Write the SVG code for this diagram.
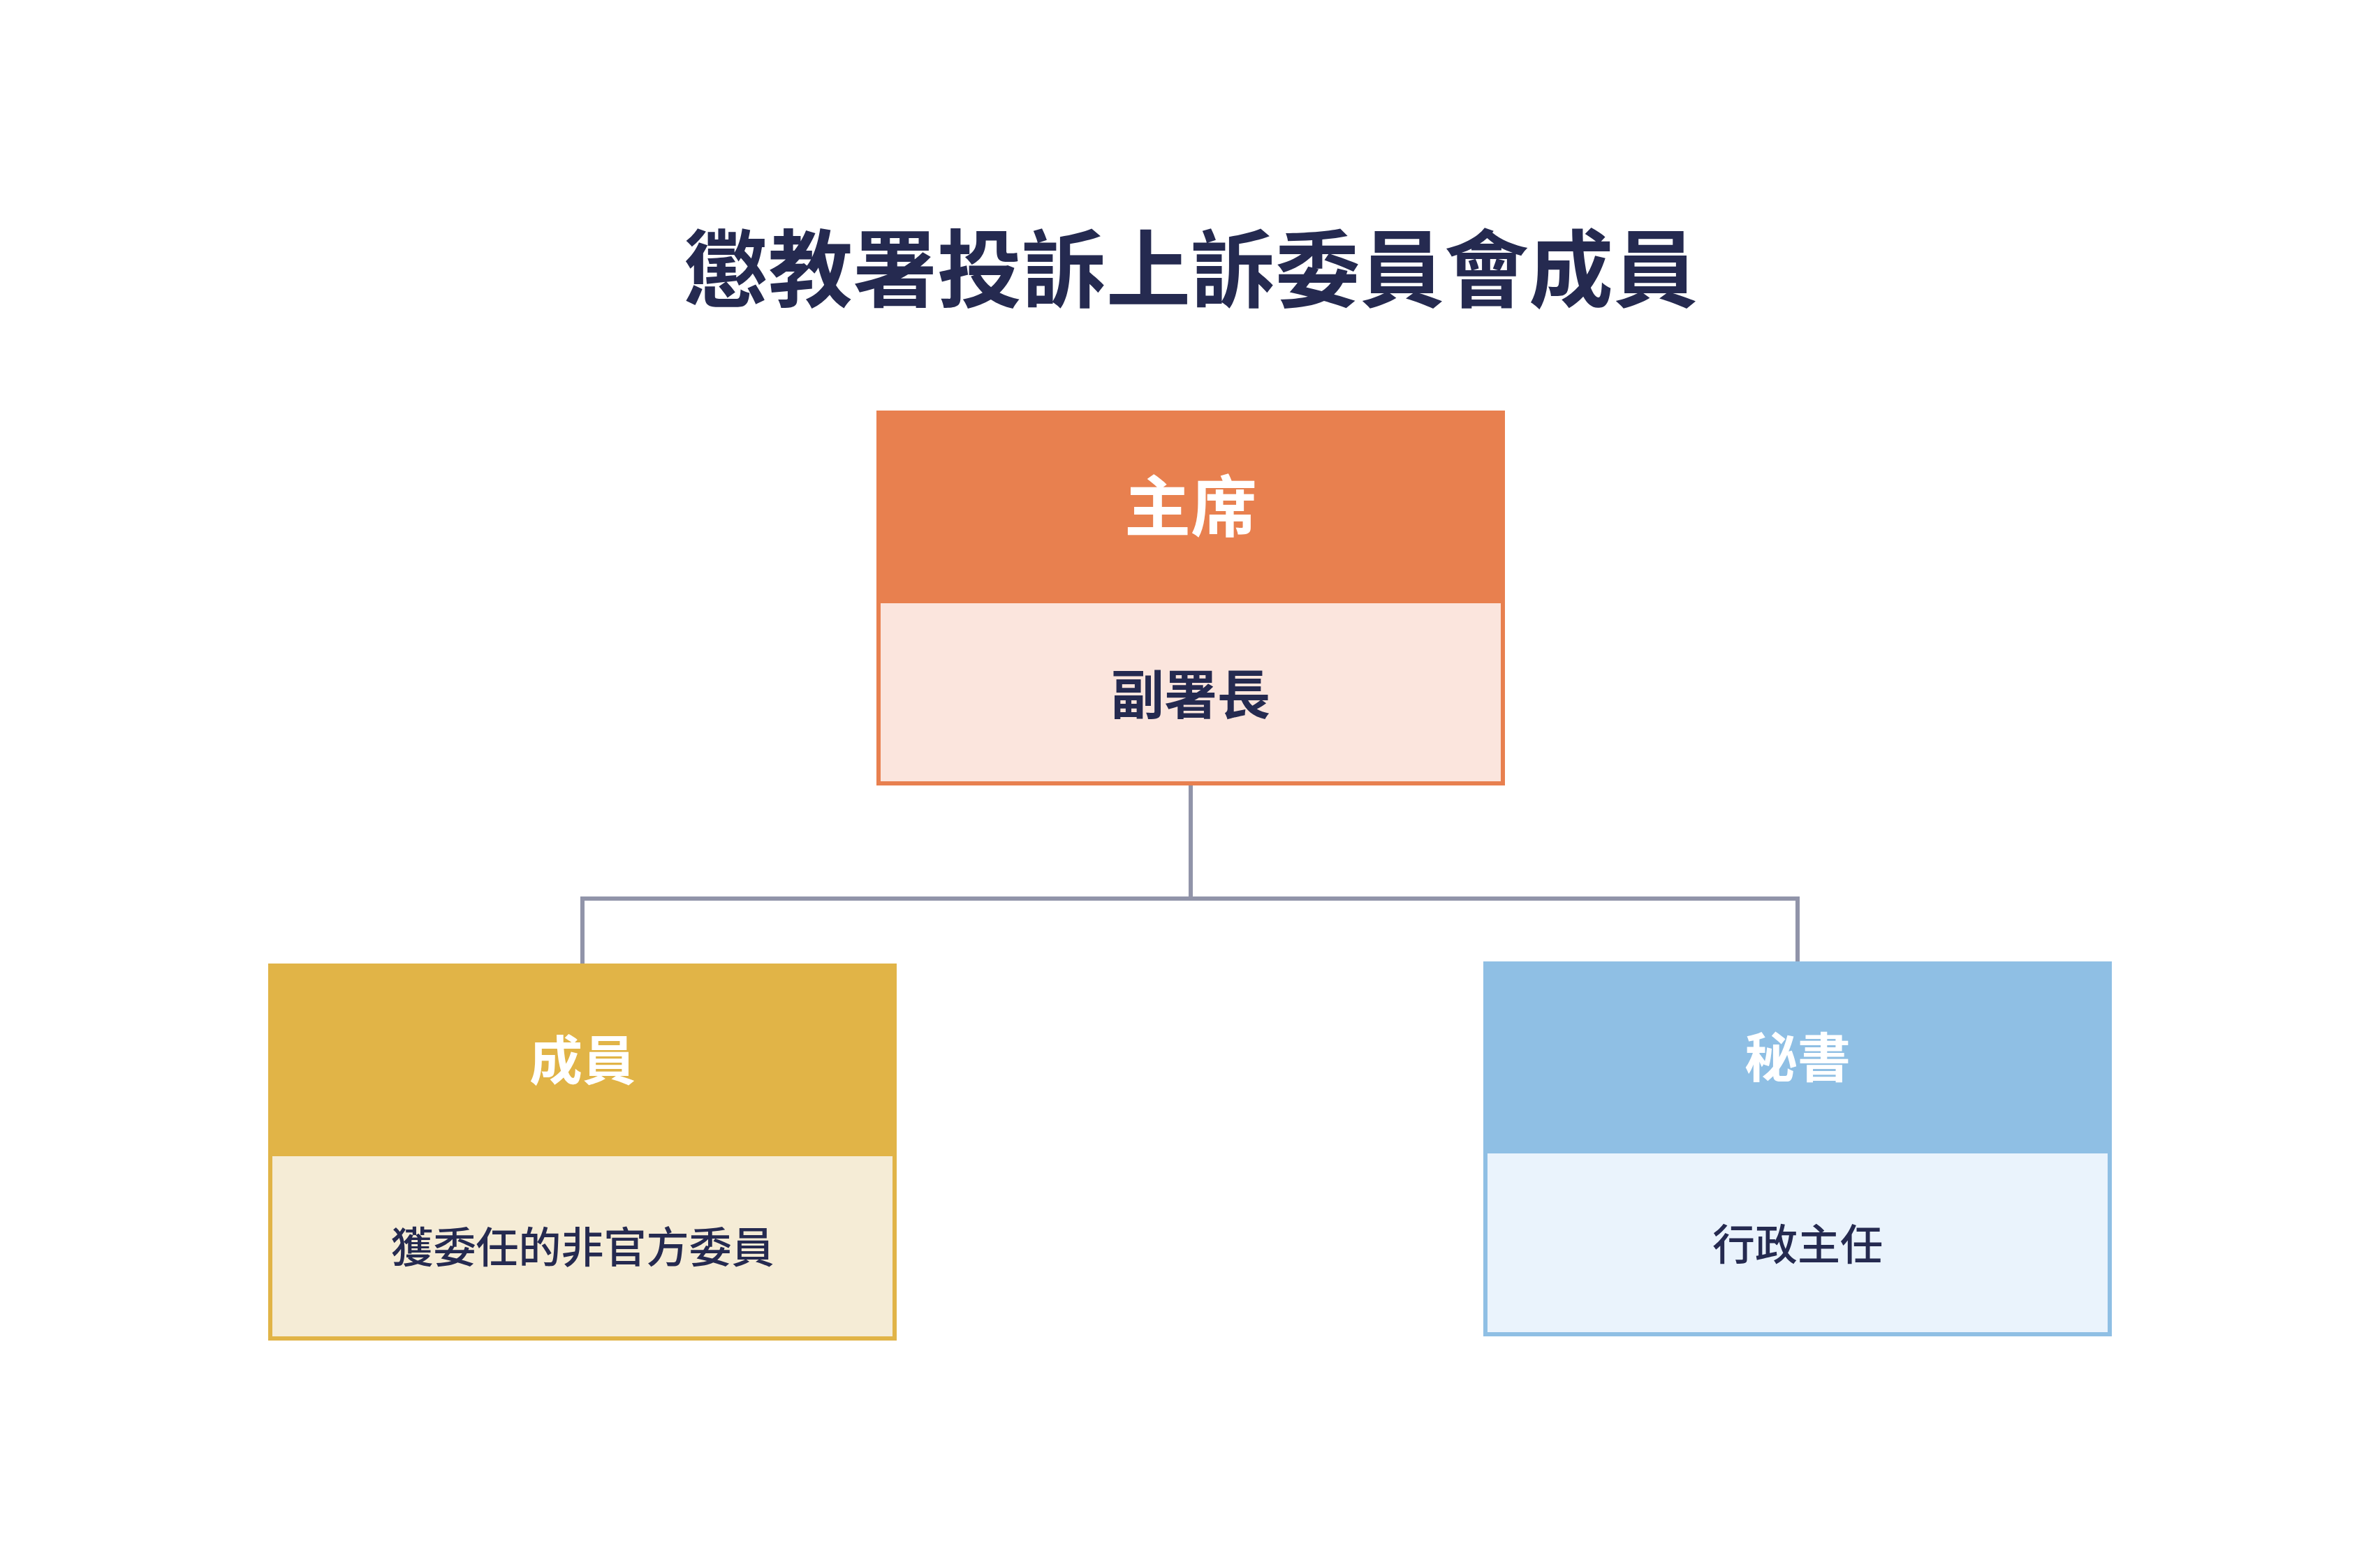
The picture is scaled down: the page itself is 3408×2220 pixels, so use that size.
<svg xmlns="http://www.w3.org/2000/svg" width="3408" height="2220" viewBox="0 0 3408 2220">
<style>
text { font-family: "Noto Sans CJK TC", "Noto Sans CJK SC", sans-serif; text-anchor: middle; dominant-baseline: central; }
.title { font-size: 121px; font-weight: 700; fill: #252A50; }
.head { fill: #FFFFFF; font-weight: 700; }
.body { fill: #252A50; }
.conn { fill: none; stroke: #9194A9; stroke-width: 6; stroke-linejoin: miter; stroke-linecap: butt; }
</style>
<rect x="0" y="0" width="3408" height="2220" fill="#FFFFFF"/>
<text class="title" x="1705" y="377">懲教署投訴上訴委員會成員</text>
<g id="connectors">
<path class="conn" d="M1705 1125 V1287 H834 V1380"/>
<path class="conn" d="M1705 1287 H2574 V1377"/>
</g>
<g id="node-chair">
<rect x="1258" y="591" width="894" height="531" fill="#FBE5DD" stroke="#E8804F" stroke-width="6"/>
<rect x="1255" y="588" width="900" height="276" fill="#E8804F"/>
<text class="head" x="1705" y="719" font-size="95">主席</text>
<text class="body" x="1705" y="990" font-size="76" font-weight="700">副署長</text>
</g>
<g id="node-members">
<rect x="387" y="1383" width="894" height="534" fill="#F5ECD6" stroke="#E1B447" stroke-width="6"/>
<rect x="384" y="1380" width="900" height="276" fill="#E1B447"/>
<text class="head" x="834" y="1514" font-size="76">成員</text>
<text class="body" x="834" y="1782" font-size="61" font-weight="500">獲委任的非官方委員</text>
</g>
<g id="node-secretary">
<rect x="2127" y="1380" width="894" height="531" fill="#EAF3FC" stroke="#8FBFE4" stroke-width="6"/>
<rect x="2124" y="1377" width="900" height="275" fill="#8FBFE4"/>
<text class="head" x="2574" y="1510" font-size="76">秘書</text>
<text class="body" x="2574" y="1778" font-size="61" font-weight="500">行政主任</text>
</g>
</svg>
